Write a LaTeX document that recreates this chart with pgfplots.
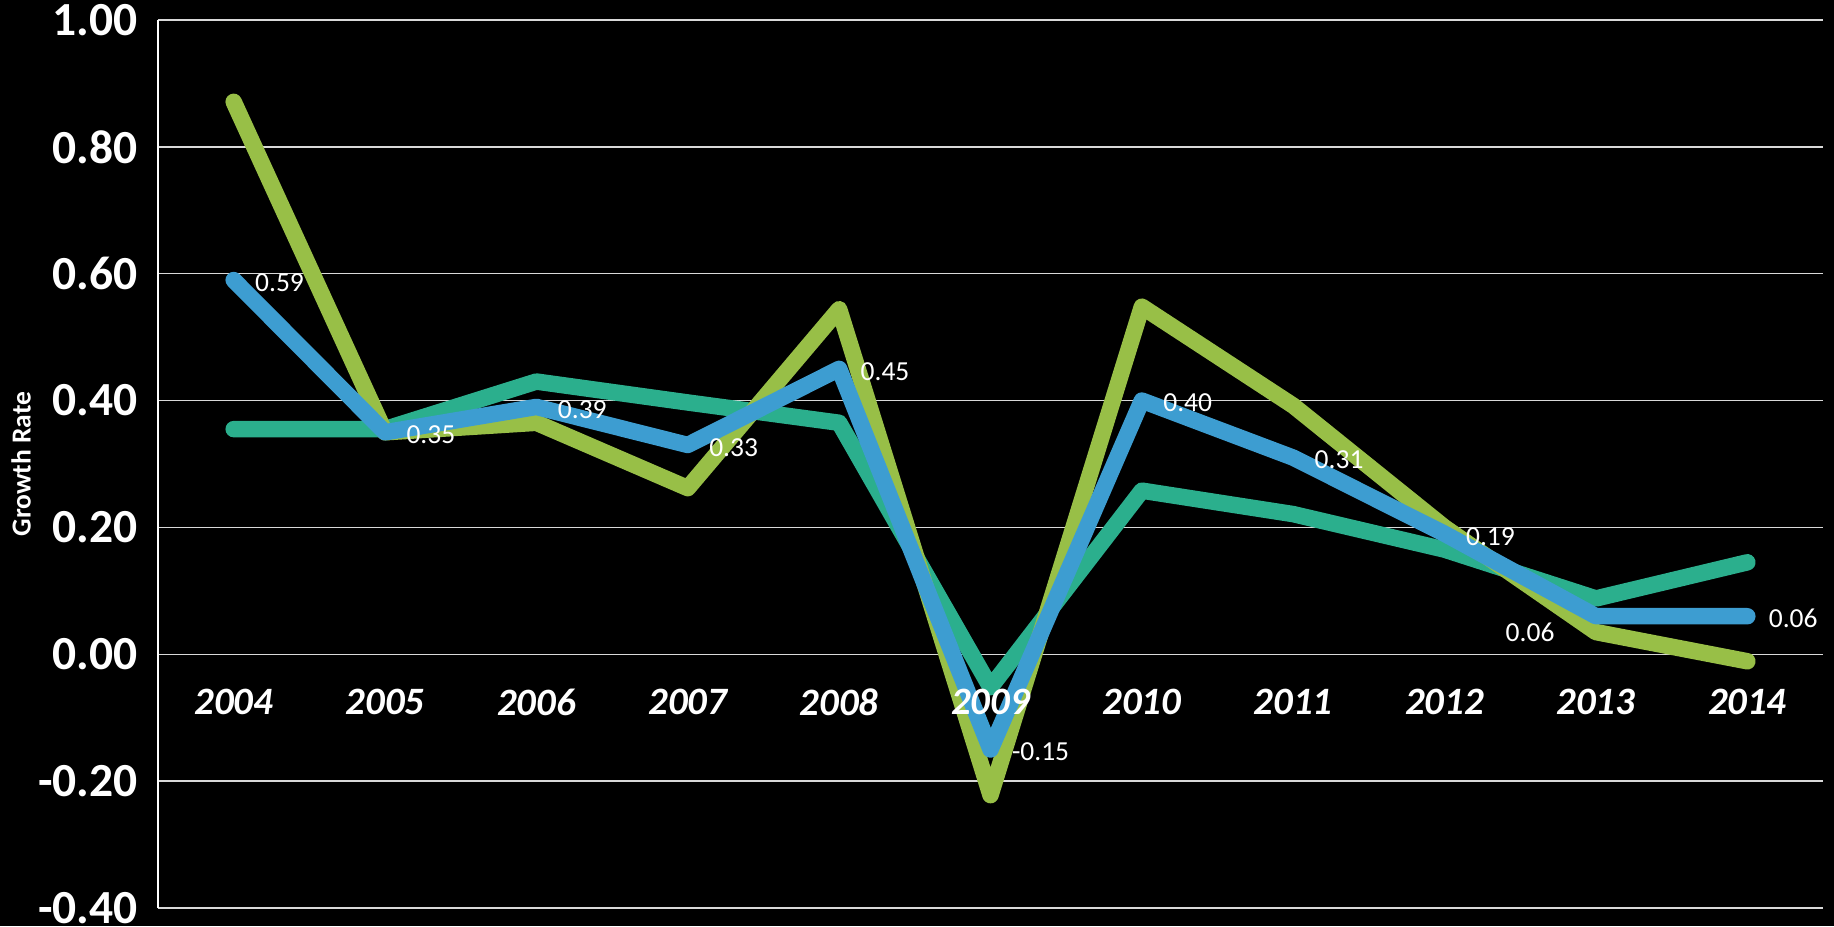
\documentclass[border=0pt]{standalone}
\usepackage{pgfplots}
\pgfplotsset{compat=1.18}
\usepackage{fontspec}
\setmainfont{Carlito}

\definecolor{limeline}{HTML}{98BF47}
\definecolor{tealline}{HTML}{2BAF8D}
\definecolor{blueline}{HTML}{3D9DD1}
\definecolor{gridgray}{HTML}{D9D9D9}

\begin{document}
\begin{tikzpicture}
\useasboundingbox (0,0) rectangle (733.6pt,370.4pt);
\fill[black] (0,0) rectangle (733.6pt,370.4pt);
\begin{axis}[
    at={(63.2pt,7.2pt)}, anchor=south west,
    scale only axis,
    width=666pt, height=355.2pt,
    xmin=-0.5, xmax=10.5,
    ymin=-0.4, ymax=1.0,
    xtick={0,...,10},
    xticklabels={},
    ytick={-0.4,-0.2,0,0.2,0.4,0.6,0.8,1.0},
    major tick length=0pt,
    axis lines*=left,
    axis line style={white, line width=0.6pt},
    x axis line style={draw=none},
    ymajorgrids=true,
    grid style={gridgray, line width=0.6pt},
    yticklabel style={font=\fontsize{19}{19}\selectfont\bfseries, text=white,
        anchor=east, inner sep=0pt, xshift=-8pt},
    /pgf/number format/.cd, fixed, fixed zerofill, precision=2, assume math mode=true,
    /pgfplots/.cd,
    ylabel={Growth Rate},
    every axis y label/.style={at={(axis description cs:-0.0823,0.5)}, rotate=90,
        anchor=center, font=\fontsize{11}{11}\selectfont\bfseries, text=white},
    clip=false,
]
% teal series
\addplot[tealline, line width=6.6pt, line cap=round, line join=round] coordinates {
    (0,0.355)(1,0.355)(2,0.430)(3,0.397)(4,0.365)(5,-0.052)(6,0.258)(7,0.221)(8,0.165)(9,0.088)(10,0.145)
};
% lime series
\addplot[limeline, line width=6.6pt, line cap=round, line join=round] coordinates {
    (0,0.871)(1,0.350)(2,0.365)(3,0.262)(4,0.544)(5,-0.222)(6,0.548)(7,0.392)(8,0.200)(9,0.035)(10,-0.011)
};
% blue series
\addplot[blueline, line width=6.6pt, line cap=round, line join=round] coordinates {
    (0,0.59)(1,0.35)(2,0.39)(3,0.33)(4,0.45)(5,-0.15)(6,0.40)(7,0.31)(8,0.19)(9,0.06)(10,0.06)
};
% blue data labels
\addplot[draw=none, forget plot, point meta=explicit symbolic,
    nodes near coords,
    nodes near coords style={anchor=west, inner sep=0pt, xshift=8.4pt, yshift=-1pt,
        text=white, font=\fontsize{11}{11}\selectfont}]
    coordinates {
    (0,0.59)[0.59](1,0.35)[0.35](2,0.39)[0.39](3,0.33)[0.33](4,0.45)[0.45]
    (5,-0.15)[-0.15](6,0.40)[0.40](7,0.31)[0.31](8,0.19)[0.19](10,0.06)[0.06]
};
\addplot[draw=none, forget plot, point meta=explicit symbolic,
    nodes near coords,
    nodes near coords style={anchor=east, inner sep=0pt, xshift=-16.4pt, yshift=-6.5pt,
        text=white, font=\fontsize{11}{11}\selectfont}]
    coordinates {(9,0.06)[0.06]};
% category names, set next to the zero line and above the lines
\addplot[draw=none, forget plot, point meta=explicit symbolic,
    nodes near coords,
    nodes near coords style={anchor=center, inner sep=0pt, yshift=-19.2pt,
        text=white, font=\fontsize{15.5}{15.5}\selectfont\bfseries\itshape}]
    coordinates {
    (0,0)[2004](1,0)[2005](2,0)[2006](3,0)[2007](4,0)[2008](5,0)[2009]
    (6,0)[2010](7,0)[2011](8,0)[2012](9,0)[2013](10,0)[2014]
};
\end{axis}
\end{tikzpicture}
\end{document}
